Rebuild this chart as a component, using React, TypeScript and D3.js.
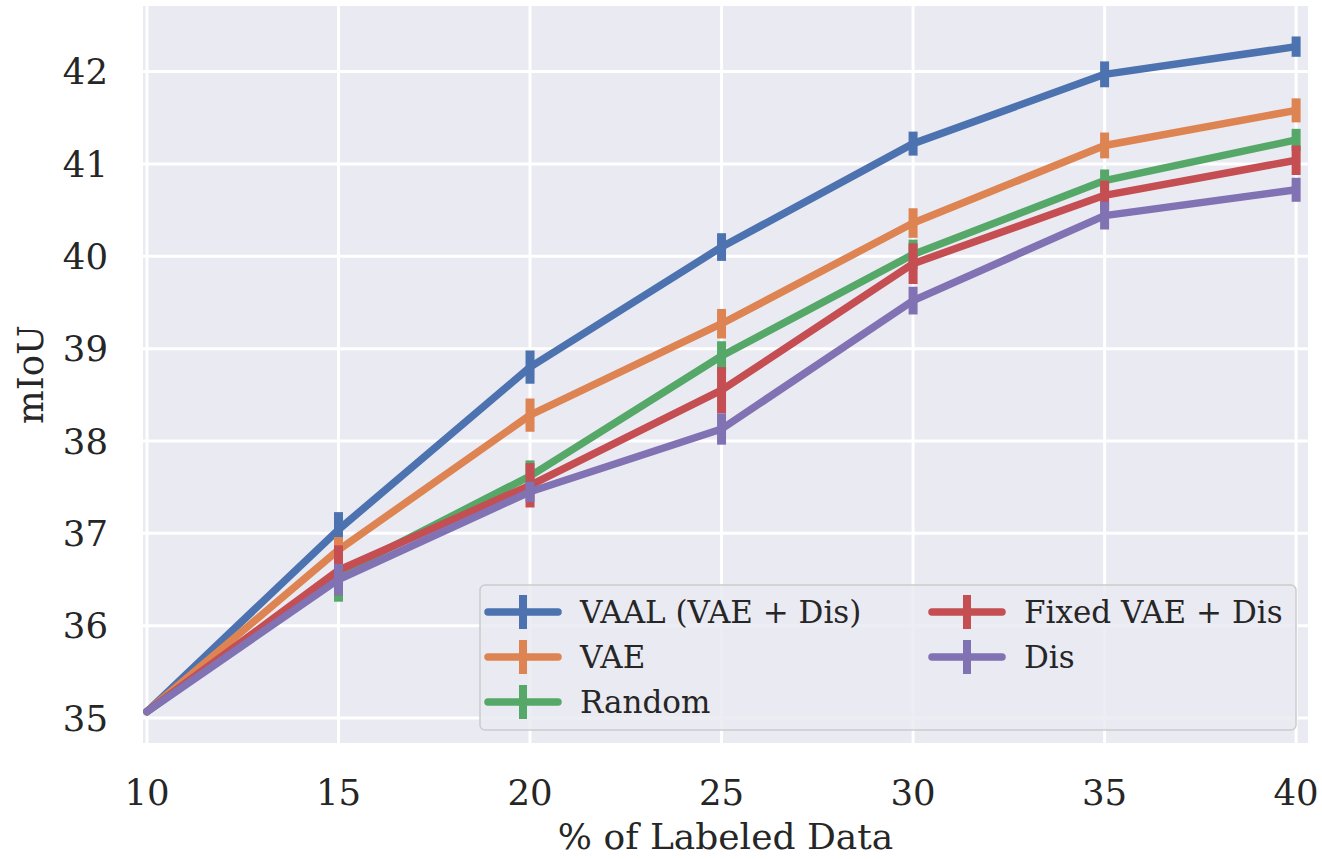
import React from 'react';
import * as d3 from 'd3';

const pct = [10, 15, 20, 25, 30, 35, 40];
const seriesNames = ['VAAL (VAE + Dis)', 'VAE', 'Random', 'Fixed VAE + Dis', 'Dis'];
const colors = ['#4C72B0', '#DD8452', '#55A868', '#C44E52', '#8172B3'];

const vaal = [35.07, 37.04, 38.8, 40.1, 41.22, 41.97, 42.27];
const vae = [35.07, 36.82, 38.28, 39.27, 40.36, 41.2, 41.58];
const random = [35.07, 36.56, 37.62, 38.92, 40.02, 40.82, 41.26];
const fixedVaeDis = [35.07, 36.6, 37.52, 38.55, 39.92, 40.66, 41.04];
const dis = [35.07, 36.5, 37.45, 38.13, 39.52, 40.44, 40.72];

const vaalErr = [0, 0.19, 0.18, 0.15, 0.13, 0.14, 0.11];
const vaeErr = [0, 0.14, 0.18, 0.16, 0.16, 0.14, 0.13];
const randomErr = [0, 0.3, 0.17, 0.16, 0.16, 0.12, 0.12];
const fixedErr = [0, 0.27, 0.24, 0.25, 0.22, 0.16, 0.16];
const disErr = [0, 0.17, 0.11, 0.17, 0.15, 0.15, 0.13];

const xTicks = [10, 15, 20, 25, 30, 35, 40];
const yTicks = [35, 36, 37, 38, 39, 40, 41, 42];

const means = [vaal, vae, random, fixedVaeDis, dis];
const errs = [vaalErr, vaeErr, randomErr, fixedErr, disErr];

const W = 1322;
const H = 859;
const plot = { left: 143, right: 1308, top: 6, bottom: 743 };
const font = '"DejaVu Serif", serif';

export default function App() {
  const x = d3.scaleLinear().domain([9.896, 40.31]).range([plot.left, plot.right]);
  const y = d3.scaleLinear().domain([34.73, 42.71]).range([plot.bottom, plot.top]);
  const line = d3
    .line<number>()
    .x((_, i) => x(pct[i]))
    .y((d) => y(d));

  const legendX = 480;
  const legendY = 585;
  const rowH = 45;
  const colX = [legendX, legendX + 444];

  return (
    <svg
      width={W}
      height={H}
      style={{ position: 'absolute', left: 0, top: 0, background: '#fff' }}
      fontFamily={font}
    >
      <rect
        x={plot.left}
        y={plot.top}
        width={plot.right - plot.left}
        height={plot.bottom - plot.top}
        fill="#EAEAF2"
      />
      {xTicks.map((t) => (
        <line key={'gx' + t} x1={x(t)} x2={x(t)} y1={plot.top} y2={plot.bottom} stroke="#fff" strokeWidth={3} />
      ))}
      {yTicks.map((t) => (
        <line key={'gy' + t} x1={plot.left} x2={plot.right} y1={y(t)} y2={y(t)} stroke="#fff" strokeWidth={3} />
      ))}

      {means.map((m, s) => (
        <g key={'s' + s}>
          <path d={line(m) || ''} fill="none" stroke={colors[s]} strokeWidth={7.5} strokeLinejoin="round" strokeLinecap="round" />
          {m.map((v, i) =>
            errs[s][i] > 0 ? (
              <line
                key={i}
                x1={x(pct[i])}
                x2={x(pct[i])}
                y1={y(v - errs[s][i])}
                y2={y(v + errs[s][i])}
                stroke={colors[s]}
                strokeWidth={9}
              />
            ) : null
          )}
        </g>
      ))}

      {yTicks.map((t) => (
        <text key={'ty' + t} x={108} y={y(t)} dy="0.36em" textAnchor="end" fontSize={35.5} fill="#262626">
          {t}
        </text>
      ))}
      {xTicks.map((t) => (
        <text key={'tx' + t} x={x(t)} y={805} textAnchor="middle" fontSize={35.5} fill="#262626">
          {t}
        </text>
      ))}
      <text x={(plot.left + plot.right) / 2} y={849} textAnchor="middle" fontSize={36} fill="#262626">
        % of Labeled Data
      </text>
      <text
        transform={`translate(43, ${(plot.top + plot.bottom) / 2}) rotate(-90)`}
        textAnchor="middle"
        fontSize={35.5}
        fill="#262626"
      >
        mIoU
      </text>

      <g>
        <rect x={legendX} y={legendY} width={1296 - legendX} height={730 - legendY} rx={5} fill="#EAEAF2" fillOpacity={0.85} stroke="#CCCCCC" strokeWidth={1.5} />
        {seriesNames.map((name, s) => {
          const col = s < 3 ? 0 : 1;
          const row = s < 3 ? s : s - 3;
          const hx = colX[col] + 8;
          const cy = legendY + 27 + row * rowH;
          return (
            <g key={'lg' + s}>
              <line x1={hx} x2={hx + 70} y1={cy} y2={cy} stroke={colors[s]} strokeWidth={7.5} strokeLinecap="round" />
              <line x1={hx + 35} x2={hx + 35} y1={cy - 17} y2={cy + 17} stroke={colors[s]} strokeWidth={8} />
              <text x={hx + 92} y={cy} dy="0.36em" fontSize={31} fill="#262626">
                {name}
              </text>
            </g>
          );
        })}
      </g>
    </svg>
  );
}
